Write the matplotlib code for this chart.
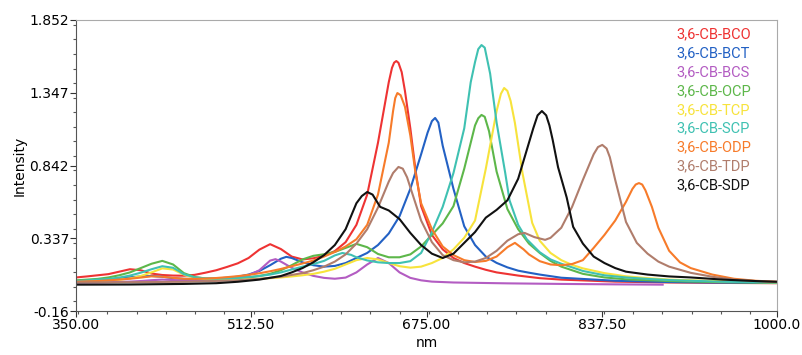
import matplotlib
matplotlib.use("Agg")
import matplotlib.pyplot as plt
from matplotlib.ticker import FixedLocator, MultipleLocator

# spectra (nm, intensity)
bco_x = [350, 360, 370, 380, 390, 400, 410, 420, 430, 440, 450, 460, 470, 480, 490, 500, 510, 520, 530, 540,
         550, 560, 570, 580, 590, 600, 610, 620, 630, 640, 643, 645, 647, 649, 652, 655, 660, 665, 670, 680,
         690, 700, 710, 720, 730, 740, 760, 780, 800, 850, 900, 950, 1000]
bco_y = [.065, .072, .08, .088, .105, .122, .115, .092, .082, .078, .077, .083, .098, .115, .138, .163, .2, .258, .296, .262,
         .21, .19, .198, .215, .248, .31, .43, .64, 1.0, 1.42, 1.52, 1.556, 1.567, 1.555, 1.49, 1.36, 1.1, .8, .56, .36,
         .26, .2, .165, .14, .118, .1, .078, .06, .05, .036, .03, .027, .025]

bct_x = [350, 360, 370, 380, 390, 400, 410, 420, 430, 440, 450, 460, 470, 480, 490, 500, 510, 520, 530, 540,
         545, 550, 560, 570, 580, 590, 600, 610, 620, 630, 640, 650, 660, 670, 676, 680, 683, 686, 690, 700,
         710, 720, 730, 740, 750, 760, 770, 780, 800, 850, 900, 950, 1000]
bct_y = [.035, .038, .043, .05, .058, .066, .072, .075, .07, .06, .055, .054, .055, .058, .063, .07, .085, .11, .15, .195,
         .208, .2, .17, .15, .14, .145, .165, .2, .235, .29, .37, .49, .68, .92, 1.07, 1.15, 1.172, 1.14, .98, .68,
         .42, .29, .21, .166, .135, .112, .098, .085, .063, .042, .033, .029, .027]

bcs_x = [350, 370, 390, 400, 410, 420, 430, 440, 450, 460, 470, 480, 490, 500, 510, 520, 530, 535, 540, 550,
         560, 570, 580, 590, 600, 610, 620, 630, 640, 650, 660, 670, 680, 700, 750, 800, 850, 894]
bcs_y = [.03, .031, .034, .036, .04, .046, .05, .047, .043, .041, .041, .044, .05, .06, .08, .115, .182, .192, .175, .132,
         .1, .076, .062, .056, .064, .1, .155, .2, .165, .1, .062, .045, .036, .03, .024, .02, .017, .015]

ocp_x = [350, 360, 370, 380, 390, 400, 410, 420, 430, 440, 450, 460, 470, 480, 490, 500, 510, 520, 530, 540,
         550, 560, 570, 580, 590, 600, 610, 620, 630, 640, 650, 660, 670, 680, 690, 700, 710, 720, 723, 726,
         729, 733, 740, 750, 760, 770, 780, 790, 800, 820, 840, 860, 900, 950, 1000]
ocp_y = [.045, .05, .055, .065, .08, .1, .13, .16, .18, .155, .095, .068, .058, .055, .056, .06, .065, .075, .09, .115,
         .15, .19, .215, .226, .242, .27, .298, .275, .228, .205, .205, .225, .28, .36, .44, .56, .82, 1.12, 1.17, 1.193,
         1.18, 1.08, .8, .54, .4, .3, .235, .18, .14, .09, .065, .052, .04, .032, .028]

tcp_x = [350, 360, 370, 380, 390, 400, 410, 420, 430, 440, 450, 460, 470, 480, 490, 500, 510, 520, 530, 540,
         550, 560, 570, 580, 590, 600, 610, 620, 630, 640, 650, 660, 670, 680, 690, 700, 710, 720, 730, 740,
         744, 747, 750, 753, 757, 764, 773, 780, 790, 800, 810, 820, 840, 860, 880, 900, 950, 1000]
tcp_y = [.035, .038, .041, .045, .05, .058, .075, .1, .128, .12, .085, .062, .053, .05, .05, .05, .052, .055, .06, .065,
         .072, .08, .09, .105, .125, .155, .185, .2, .19, .165, .143, .133, .14, .165, .2, .26, .34, .46, .82, 1.22,
         1.34, 1.38, 1.36, 1.29, 1.137, .79, .444, .32, .235, .185, .152, .128, .095, .073, .06, .05, .038, .03]

scp_x = [350, 360, 370, 380, 390, 400, 410, 420, 430, 440, 450, 460, 470, 480, 490, 500, 510, 520, 530, 540,
         550, 560, 570, 580, 590, 597, 605, 610, 620, 630, 640, 650, 660, 670, 680, 690, 700, 710, 716, 720,
         723, 726, 729, 734, 740, 748, 752, 760, 768, 780, 790, 800, 820, 840, 860, 880, 900, 950, 1000]
scp_y = [.04, .044, .05, .055, .064, .078, .098, .122, .143, .132, .088, .066, .058, .056, .058, .062, .068, .075, .085, .1,
         .12, .14, .158, .18, .218, .235, .222, .205, .183, .17, .165, .165, .178, .235, .38, .555, .79, 1.1, 1.42, 1.56,
         1.65, 1.678, 1.66, 1.48, 1.14, .79, .6, .43, .33, .24, .19, .16, .11, .08, .065, .055, .047, .035, .03]

odp_x = [350, 360, 370, 380, 390, 400, 410, 420, 430, 440, 450, 460, 470, 480, 490, 500, 510, 520, 530, 540,
         550, 560, 570, 580, 590, 600, 610, 620, 630, 640, 644, 646, 648, 651, 655, 660, 665, 670, 680, 690,
         700, 710, 720, 730, 740, 750, 757, 765, 770, 780, 790, 800, 810, 820, 830, 840, 850, 860, 866, 869,
         872, 875, 878, 884, 890, 900, 910, 920, 940, 960, 980, 1000]
odp_y = [.035, .038, .04, .045, .05, .056, .064, .073, .07, .062, .056, .055, .057, .061, .067, .074, .083, .094, .108, .124,
         .143, .162, .182, .21, .242, .28, .33, .43, .64, 1.0, 1.22, 1.31, 1.345, 1.33, 1.25, 1.05, .78, .58, .4, .28,
         .22, .185, .172, .18, .21, .275, .305, .26, .225, .178, .155, .15, .158, .185, .27, .36, .46, .59, .68, .71,
         .72, .71, .67, .555, .41, .25, .17, .13, .085, .056, .042, .035]

tdp_x = [350, 400, 450, 500, 520, 540, 560, 570, 580, 590, 600, 610, 620, 630, 640, 644, 649, 653, 657, 660,
         670, 680, 690, 700, 710, 720, 730, 740, 750, 760, 766, 775, 785, 790, 800, 810, 820, 830, 834, 838,
         842, 845, 850, 860, 870, 880, 890, 900, 920, 940, 960, 980, 1000]
tdp_y = [.03, .032, .035, .045, .055, .07, .095, .115, .14, .175, .225, .3, .4, .55, .73, .79, .832, .82, .76, .69,
         .46, .31, .22, .185, .17, .175, .2, .25, .32, .365, .374, .345, .326, .34, .41, .555, .742, .92, .97, .985,
         .96, .9, .742, .45, .305, .23, .175, .14, .097, .07, .05, .04, .035]

sdp_x = [350, 400, 450, 480, 500, 520, 540, 550, 560, 570, 580, 590, 600, 610, 615, 620, 625, 632, 640, 650,
         660, 670, 680, 690, 700, 710, 720, 730, 740, 750, 760, 770, 774, 778, 782, 786, 789, 792, 797, 805,
         811, 820, 830, 840, 850, 860, 880, 900, 920, 950, 980, 1000]
sdp_y = [.015, .016, .02, .025, .035, .05, .075, .1, .13, .17, .22, .29, .4, .58, .63, .658, .64, .555, .53, .47,
         .374, .29, .23, .2, .23, .305, .38, .48, .534, .6, .75, 1.0, 1.1, 1.19, 1.22, 1.19, 1.12, 1.02, .83, .62,
         .416, .3, .21, .165, .13, .105, .085, .072, .065, .05, .04, .035]

names = ["3,6-CB-BCO", "3,6-CB-BCT", "3,6-CB-BCS", "3,6-CB-OCP", "3,6-CB-TCP",
         "3,6-CB-SCP", "3,6-CB-ODP", "3,6-CB-TDP", "3,6-CB-SDP"]
colors = ["#ee3333", "#2361c4", "#b35cc2", "#5db74a", "#f7e33c",
          "#3fc1b2", "#f77b2a", "#b07d6c", "#111111"]
series = [(bco_x, bco_y), (bct_x, bct_y), (bcs_x, bcs_y), (ocp_x, ocp_y), (tcp_x, tcp_y),
          (scp_x, scp_y), (odp_x, odp_y), (tdp_x, tdp_y), (sdp_x, sdp_y)]

x_ticks = [350, 512.5, 675, 837.5, 1000]
x_labels = ["350.00", "512.50", "675.00", "837.50", "1000.0"]
y_ticks = [-0.168, 0.337, 0.842, 1.347, 1.852]
y_labels = ["-0.16", "0.337", "0.842", "1.347", "1.852"]

fig = plt.figure(figsize=(8.02, 3.55), dpi=100)
ax = fig.add_axes([0.0948, 0.1239, 0.874, 0.8198])

for (xs, ys), name, c in zip(series, names, colors):
    ax.plot(xs, ys, color=c, lw=1.5, label=name, solid_joinstyle="round")

ax.set_xlim(350, 1000)
ax.set_ylim(-0.168, 1.852)
ax.xaxis.set_major_locator(FixedLocator(x_ticks))
ax.set_xticklabels(x_labels)
ax.xaxis.set_minor_locator(MultipleLocator(162.5 / 6))
ax.yaxis.set_major_locator(FixedLocator(y_ticks))
ax.set_yticklabels(y_labels)
ax.yaxis.set_minor_locator(MultipleLocator(0.101))

ax.tick_params(which="major", direction="out", length=4, width=0.8, labelsize=10, pad=1, colors="#333333")
ax.tick_params(which="minor", direction="out", length=2, width=0.8, colors="#555555")
for lab in ax.get_xticklabels() + ax.get_yticklabels():
    lab.set_color("black")

for s in ["left", "bottom"]:
    ax.spines[s].set_color("#555555")
for s in ["top", "right"]:
    ax.spines[s].set_color("#aaaaaa")

ax.set_xlabel("nm", fontsize=10, labelpad=3)
ax.set_ylabel("Intensity", fontsize=10, labelpad=2)

ax.legend(loc="upper right", bbox_to_anchor=(0.964, 0.976), frameon=False,
          handlelength=0, handletextpad=0, labelcolor="linecolor",
          prop={"family": "Roboto", "size": 10.5}, labelspacing=0.34,
          borderpad=0, borderaxespad=0)

fig.savefig("out.png", dpi=100)
